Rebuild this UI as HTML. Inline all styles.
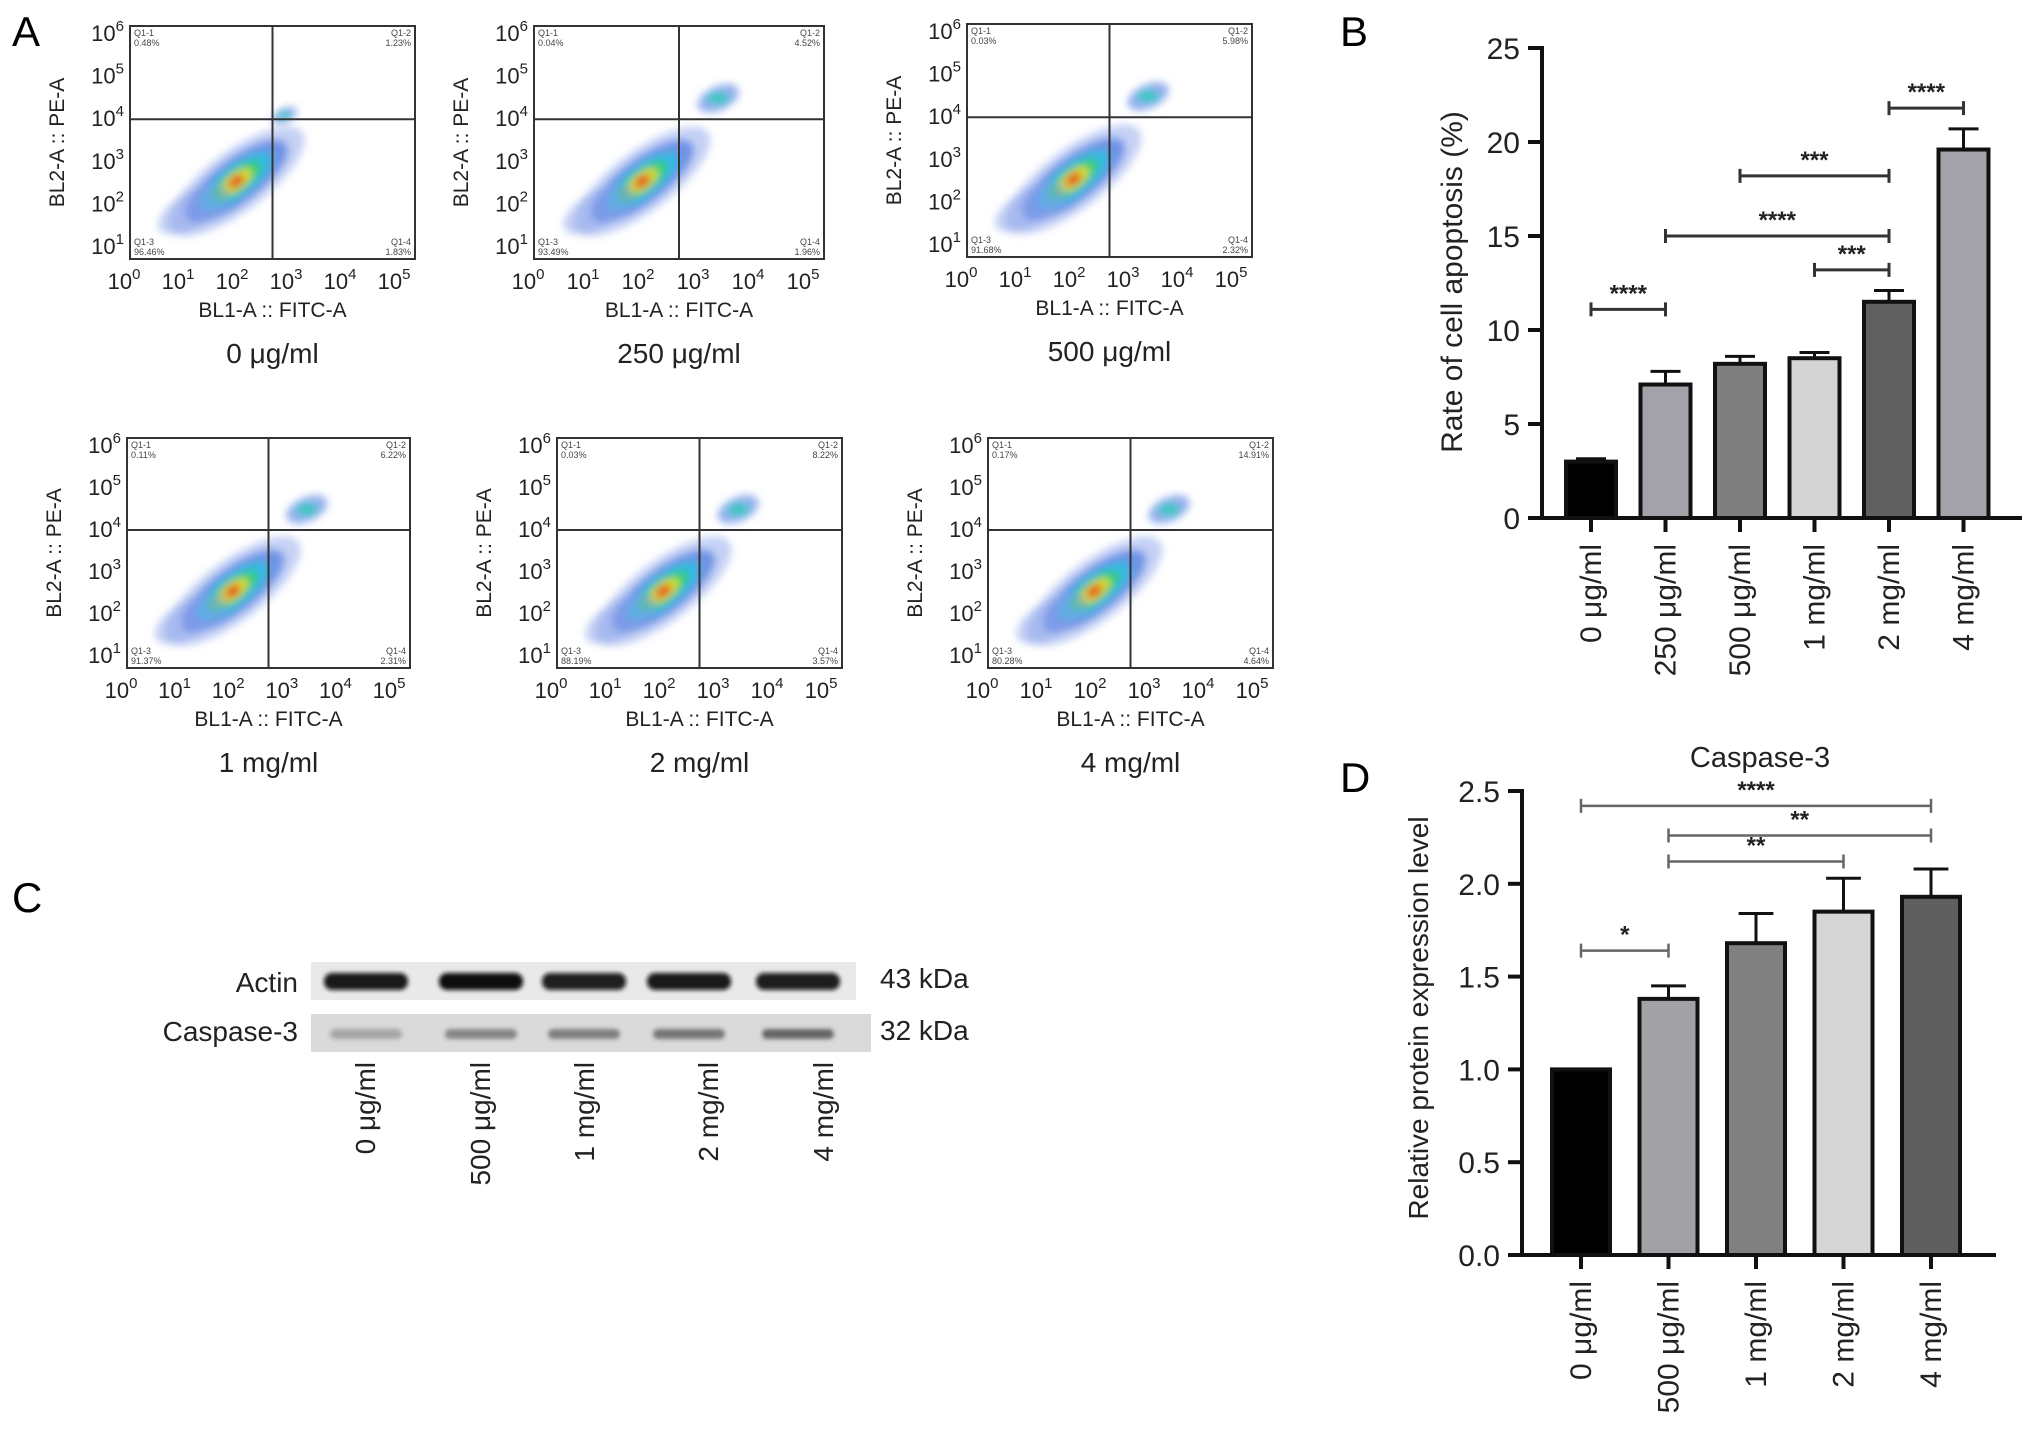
<!DOCTYPE html>
<html><head><meta charset="utf-8"><style>
html,body{margin:0;padding:0;background:#fff;}
svg{display:block;font-family:"Liberation Sans",Arial,sans-serif;}
</style></head><body>
<svg id="fig" width="2032" height="1435" viewBox="0 0 2032 1435" xmlns="http://www.w3.org/2000/svg">
<defs>
<filter id="blur3"><feGaussianBlur stdDeviation="4"/></filter>
<filter id="bandblur"><feGaussianBlur stdDeviation="2"/></filter>
</defs>
<text x="12" y="46" font-size="42">A</text>
<text x="1340" y="46" font-size="42">B</text>
<text x="12" y="912" font-size="42">C</text>
<text x="1340" y="792" font-size="42">D</text>
<g id="flow"></g>
<g id="blot"></g>
<g id="chartB"></g>
<g id="chartD"></g>
</svg>
<script>
const NS="http://www.w3.org/2000/svg";
function mk(parent,tag,attrs,txt){const e=document.createElementNS(NS,tag);for(const k in attrs)e.setAttribute(k,attrs[k]);if(txt!==undefined)e.textContent=txt;parent.appendChild(e);return e;}

// ---------- Panel B data ----------
const bCategories=["0 μg/ml","250 μg/ml","500 μg/ml","1 mg/ml","2 mg/ml","4 mg/ml"];
const bValues=[3.0,7.1,8.2,8.5,11.5,19.6];
const bErrors=[0.15,0.7,0.4,0.3,0.6,1.1];
const bColors=["#000000","#a2a2a8","#7f7f80","#d4d4d4","#606060","#a2a2a8"];
const bTicks=[0,5,10,15,20,25];
const bSigFrom=[0,1,2,3,4];
const bSigTo=[1,4,4,4,5];
const bSigY=[11.1,15.0,18.2,13.2,21.8];
const bSigText=["****","****","***","***","****"];

// ---------- Panel D data ----------
const dCategories=["0 μg/ml","500 μg/ml","1 mg/ml","2 mg/ml","4 mg/ml"];
const dValues=[1.0,1.38,1.68,1.85,1.93];
const dErrors=[0,0.07,0.16,0.18,0.15];
const dColors=["#000000","#a2a2a6","#808080","#d6d6d6","#5f5f5f"];
const dTicks=[0,0.5,1.0,1.5,2.0,2.5];
const dTickLabels=["0.0","0.5","1.0","1.5","2.0","2.5"];
const dSigFrom=[0,1,1,0];
const dSigTo=[1,3,4,4];
const dSigY=[1.64,2.12,2.26,2.42];
const dSigText=["*","**","**","****"];

function barChart(g,o){
  const yS=v=>o.y0-(v-o.min)/(o.max-o.min)*(o.y0-o.yTop);
  const xS=i=>o.x0+o.first+i*o.step;
  mk(g,"line",{x1:o.x0,y1:o.yTop-2,x2:o.x0,y2:o.y0+2,stroke:"#111","stroke-width":4});
  mk(g,"line",{x1:o.x0-2,y1:o.y0,x2:o.xEnd,y2:o.y0,stroke:"#111","stroke-width":4});
  o.ticks.forEach((t,i)=>{
    const y=yS(t);
    const l=mk(g,"line",{x1:o.x0-14,y1:y,x2:o.x0,y2:y,stroke:"#111","stroke-width":4});
    
    const tx=mk(g,"text",{x:o.x0-22,y:y+11,"font-size":o.fs,"text-anchor":"end",fill:"#222"},o.tickLabels?o.tickLabels[i]:String(t));
    
    
  });
  o.cats.forEach((c,i)=>{
    const cx=xS(i),top=yS(o.vals[i]);
    if(o.errs[i]>0){
      const et=yS(o.vals[i]+o.errs[i]);
      const e1=mk(g,"line",{x1:cx,y1:top,x2:cx,y2:et,stroke:"#111","stroke-width":3});
      
      const e2=mk(g,"line",{x1:cx-o.bw*0.3,y1:et,x2:cx+o.bw*0.3,y2:et,stroke:"#111","stroke-width":3});
      
    }
    const r=mk(g,"rect",{x:cx-o.bw/2,y:top,width:o.bw,height:o.y0-top,fill:o.colors[i],stroke:"#111","stroke-width":4});
    
    
    const tk=mk(g,"line",{x1:cx,y1:o.y0,x2:cx,y2:o.y0+14,stroke:"#111","stroke-width":4});
    
    const lb=mk(g,"text",{x:0,y:0,"font-size":o.fs,"text-anchor":"end",fill:"#222",transform:`translate(${cx+10},${o.y0+26}) rotate(-90)`},c);
    
    
  });
  o.sigFrom.forEach((f,i)=>{
    const x1=xS(f),x2=xS(o.sigTo[i]),y=yS(o.sigY[i]);
    const p=mk(g,"path",{d:`M${x1},${y-7}V${y+7}M${x1},${y}H${x2}M${x2},${y-7}V${y+7}`,stroke:o.sigColor,"stroke-width":o.sigW,fill:"none"});
    
    const t=mk(g,"text",{x:(x1+x2)/2,y:y-8,"font-size":24,"font-weight":"bold","text-anchor":"middle",fill:"#222"},o.sigText[i]);
    
    
  });
  const yl=mk(g,"text",{x:0,y:0,"font-size":o.yfs,"text-anchor":"middle",fill:"#222",transform:`translate(${o.ylx},${o.yly}) rotate(-90)`},o.ylabel);
  
  
}

barChart(document.getElementById("chartB"),{x0:1542,y0:518,yTop:48,xEnd:2022,min:0,max:25,first:49,step:74.5,bw:50,
  cats:bCategories,vals:bValues,errs:bErrors,colors:bColors,ticks:bTicks,fs:30,yfs:30,
  sigFrom:bSigFrom,sigTo:bSigTo,sigY:bSigY,sigText:bSigText,sigColor:"#333",sigW:3,
  ylabel:"Rate of cell apoptosis (%)",ylx:1462,yly:282});

barChart(document.getElementById("chartD"),{x0:1522,y0:1255,yTop:791,xEnd:1996,min:0,max:2.5,first:59,step:87.5,bw:58,
  cats:dCategories,vals:dValues,errs:dErrors,colors:dColors,ticks:dTicks,tickLabels:dTickLabels,fs:30,yfs:28,
  sigFrom:dSigFrom,sigTo:dSigTo,sigY:dSigY,sigText:dSigText,sigColor:"#666",sigW:2.5,
  ylabel:"Relative protein expression level",ylx:1428,yly:1018});
(function(){const t=mk(document.getElementById("chartD"),"text",{x:1760,y:767,"font-size":29,"text-anchor":"middle",fill:"#222"},"Caspase-3");
})();

// ---------- Panel A flow plots ----------
const flowConditions=["0 μg/ml","250 μg/ml","500 μg/ml","1 mg/ml","2 mg/ml","4 mg/ml"];
const flowQ1=["0.48%","0.04%","0.03%","0.11%","0.03%","0.17%"];
const flowQ2=["1.23%","4.52%","5.98%","6.22%","8.22%","14.91%"];
const flowQ3=["96.46%","93.49%","91.68%","91.37%","88.19%","80.28%"];
const flowQ4=["1.83%","1.96%","2.32%","2.31%","3.57%","4.64%"];
const boxes=[[130,26,285,233],[534,26,290,233],[967,24,285,233],[127,438,283,230],[557,438,285,230],[988,438,285,230]];
const fg=document.getElementById("flow");
boxes.forEach((b,k)=>{
  const [x,y,w,h]=b;
  const g=mk(fg,"g",{});
  
  
  const dx=w/5.35, dy=(h-16)/5.1;
  const X=l=>x+l*dx, Y=l=>y+h-16-(l-0.9)*dy;
  const pg=mk(g,"g",{filter:"url(#blur3)"});
  const cx=X(2.0),cy=Y(2.35);
  const layers=[[82,30,"#7f9ae8",0.45],[62,22,"#4a78e0",0.7],[44,16,"#2cc0e0",0.85],[30,11,"#36d060",0.9],[18,8,"#e8e020",0.95],[9,5,"#e83020",1]];
  layers.forEach(L=>mk(pg,"ellipse",{cx:cx,cy:cy,rx:L[0],ry:L[1],fill:L[2],opacity:L[3],transform:`rotate(-37 ${cx} ${cy})`}));
  mk(pg,"ellipse",{cx:X(1.2),cy:Y(1.7),rx:40,ry:18,fill:"#8aa2ea",opacity:0.5,transform:`rotate(-30 ${X(1.2)} ${Y(1.7)})`});
  const q2x=k==0?X(2.9):X(3.4), q2y=k==0?Y(3.9):Y(4.3);
  const s=k==0?0.6:1;
  mk(pg,"ellipse",{cx:q2x,cy:q2y,rx:22*s,ry:12*s,fill:"#6a8ee6",opacity:0.7,transform:`rotate(-25 ${q2x} ${q2y})`});
  mk(pg,"ellipse",{cx:q2x,cy:q2y,rx:11*s,ry:6*s,fill:"#30c8c0",opacity:0.9});
  mk(g,"rect",{x:x,y:y,width:w,height:h,fill:"none",stroke:"#333","stroke-width":2});
  const vx=x+w*0.5, hy=y+h*0.4;
  mk(g,"line",{x1:vx,y1:y,x2:vx,y2:y+h,stroke:"#333","stroke-width":2});
  mk(g,"line",{x1:x,y1:hy,x2:x+w,y2:hy,stroke:"#333","stroke-width":2});
  const qf={"font-size":9,fill:"#444"};
  mk(g,"text",Object.assign({x:x+4,y:y+10},qf),"Q1-1");
  mk(g,"text",Object.assign({x:x+4,y:y+20},qf),flowQ1[k]);
  mk(g,"text",Object.assign({x:x+w-4,y:y+10,"text-anchor":"end"},qf),"Q1-2");
  mk(g,"text",Object.assign({x:x+w-4,y:y+20,"text-anchor":"end"},qf),flowQ2[k]);
  mk(g,"text",Object.assign({x:x+4,y:y+h-14},qf),"Q1-3");
  mk(g,"text",Object.assign({x:x+4,y:y+h-4},qf),flowQ3[k]);
  mk(g,"text",Object.assign({x:x+w-4,y:y+h-14,"text-anchor":"end"},qf),"Q1-4");
  mk(g,"text",Object.assign({x:x+w-4,y:y+h-4,"text-anchor":"end"},qf),flowQ4[k]);
  for(let e=1;e<=6;e++){
    const ty=y+7+(6-e)*(h-20)/5;
    const t=mk(g,"text",{x:x-6,y:ty+8,"font-size":22,"text-anchor":"end",fill:"#222"});
    mk(t,"tspan",{},"10");
    mk(t,"tspan",{dy:-10,"font-size":15},String(e));
    
  }
  for(let e=0;e<=5;e++){
    const tx=x+e*(w-15)/5;
    const t=mk(g,"text",{x:tx-6,y:y+h+30,"font-size":22,"text-anchor":"middle",fill:"#222"});
    mk(t,"tspan",{},"10");
    mk(t,"tspan",{dy:-10,"font-size":15},String(e));
    
  }
  const xl=mk(g,"text",{x:x+w/2,y:y+h+58,"font-size":21,"text-anchor":"middle",fill:"#222"},"BL1-A :: FITC-A");
  
  const yl=mk(g,"text",{x:0,y:0,"font-size":21,"text-anchor":"middle",fill:"#222",transform:`translate(${x-66},${y+h/2}) rotate(-90)`},"BL2-A :: PE-A");
  
  const cl=mk(g,"text",{x:x+w/2,y:y+h+104,"font-size":28,"text-anchor":"middle",fill:"#222"},flowConditions[k]);
  
});

// ---------- Panel C blot ----------
const blotLanes=["0 μg/ml","500 μg/ml","1 mg/ml","2 mg/ml","4 mg/ml"];
const actinIntensity=[0.95,1.0,0.92,0.95,0.93];
const caspIntensity=[0.3,0.5,0.55,0.6,0.7];
const bg=document.getElementById("blot");
mk(bg,"rect",{x:311,y:962,width:545,height:38,fill:"#e9e9e9"});
mk(bg,"rect",{x:311,y:1014,width:560,height:38,fill:"#dadada"});
const laneX=[366,481,584,689,798];
const bandG=mk(bg,"g",{filter:"url(#bandblur)"});
laneX.forEach((lx,i)=>{
  const a=mk(bandG,"rect",{x:lx-42,y:973,width:84,height:17,rx:8,fill:"#111",opacity:actinIntensity[i]});
  
  const c=mk(bandG,"rect",{x:lx-36,y:1029,width:72,height:10,rx:5,fill:"#333",opacity:caspIntensity[i]});
  
});
const labTxt=[["Actin",298,992],["Caspase-3",298,1041]];
labTxt.forEach(t=>{const e=mk(bg,"text",{x:t[1],y:t[2],"font-size":28,"text-anchor":"end",fill:"#222"},t[0]);});
mk(bg,"text",{x:880,y:988,"font-size":28,fill:"#222"},"43 kDa");
mk(bg,"text",{x:880,y:1040,"font-size":28,fill:"#222"},"32 kDa");
const laneLabelX=[365,480,584,708,823];
blotLanes.forEach((l,i)=>{
  const e=mk(bg,"text",{x:0,y:0,"font-size":28,"text-anchor":"end",fill:"#222",transform:`translate(${laneLabelX[i]+10},1062) rotate(-90)`},l);
  
});
</script>
</body></html>
